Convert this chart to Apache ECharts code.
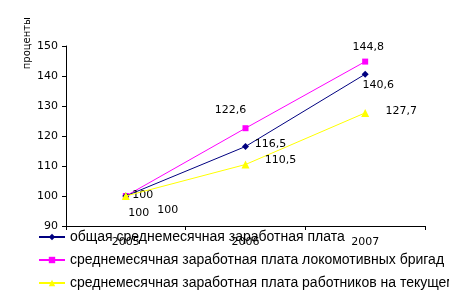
<!DOCTYPE html>
<html><head><meta charset="utf-8">
<script src="https://cdn.jsdelivr.net/npm/echarts@6/dist/echarts.min.js"></script>
<style>html,body{margin:0;padding:0;background:#fff}#c{width:449px;height:295px}</style>
</head><body><div id="c"></div>
<script>
const categories = ['2005', '2006', '2007'];
const seriesNames = [
  'общая среднемесячная заработная плата',
  'среднемесячная заработная плата локомотивных бригад',
  'среднемесячная заработная плата работников на текущем содержании пути'
];
const totalWage = [100, 116.5, 140.6];
const locoWage = [100, 122.6, 144.8];
const trackWage = [100, 110.5, 127.7];
const yTicks = [90, 100, 110, 120, 130, 140, 150];
const yTitle = 'проценты';

const fmt = v => String(v).replace('.', ',');
const lab = (offsets) => (v, i) => ({
  value: v,
  label: { show: true, offset: offsets[i], formatter: fmt(v) }
});
const labelStyle = { position: 'inside', color: '#000', fontSize: 11, fontFamily: 'DejaVu Sans' };

const chart = echarts.init(document.getElementById('c'));
chart.setOption({
  animation: false,
  grid: { left: 66, right: 24, top: 46, bottom: 69 },
  graphic: [{
    type: 'text', left: 22, top: 17, rotation: Math.PI / 2,
    style: { text: yTitle, fill: '#000', fontSize: 10, fontFamily: 'DejaVu Sans' }
  }],
  xAxis: {
    type: 'category', data: categories, boundaryGap: true,
    axisLine: { lineStyle: { color: '#000', width: 1 } },
    axisTick: { show: true, length: 4, lineStyle: { color: '#000' } },
    axisLabel: { color: '#000', fontSize: 11, fontFamily: 'DejaVu Sans', margin: 11 }
  },
  yAxis: {
    type: 'value', min: yTicks[0], max: yTicks[yTicks.length - 1], interval: 10,
    axisLine: { show: true, lineStyle: { color: '#000', width: 1 } },
    axisTick: { show: true, length: 4, lineStyle: { color: '#000' } },
    splitLine: { show: false },
    axisLabel: { color: '#000', fontSize: 11, fontFamily: 'DejaVu Sans', margin: 8 }
  },
  legend: {
    orient: 'vertical', left: 38, top: 230, itemGap: 9, padding: 0,
    itemWidth: 26, itemHeight: 8,
    textStyle: { color: '#000', fontSize: 14, fontFamily: 'Liberation Sans' },
    data: seriesNames
  },
  series: [
    {
      name: seriesNames[0], type: 'line', data: totalWage.map(lab([[17, -1], [25, -2], [13, 11]])),
      symbol: 'diamond', symbolSize: 7,
      lineStyle: { color: '#000080', width: 1 }, itemStyle: { color: '#000080' },
      label: labelStyle, z: 3
    },
    {
      name: seriesNames[1], type: 'line', data: locoWage.map(lab([[13, 17], [-15, -18], [3, -14]])),
      symbol: 'rect', symbolSize: 6,
      lineStyle: { color: '#FF00FF', width: 1 }, itemStyle: { color: '#FF00FF' },
      label: labelStyle, z: 2
    },
    {
      name: seriesNames[2], type: 'line', data: trackWage.map(lab([[42, 14], [35, -4], [36, -2]])),
      symbol: 'triangle', symbolSize: 8,
      lineStyle: { color: '#FFFF00', width: 1 }, itemStyle: { color: '#FFFF00' },
      label: labelStyle, z: 4
    }
  ]
});
</script></body></html>
